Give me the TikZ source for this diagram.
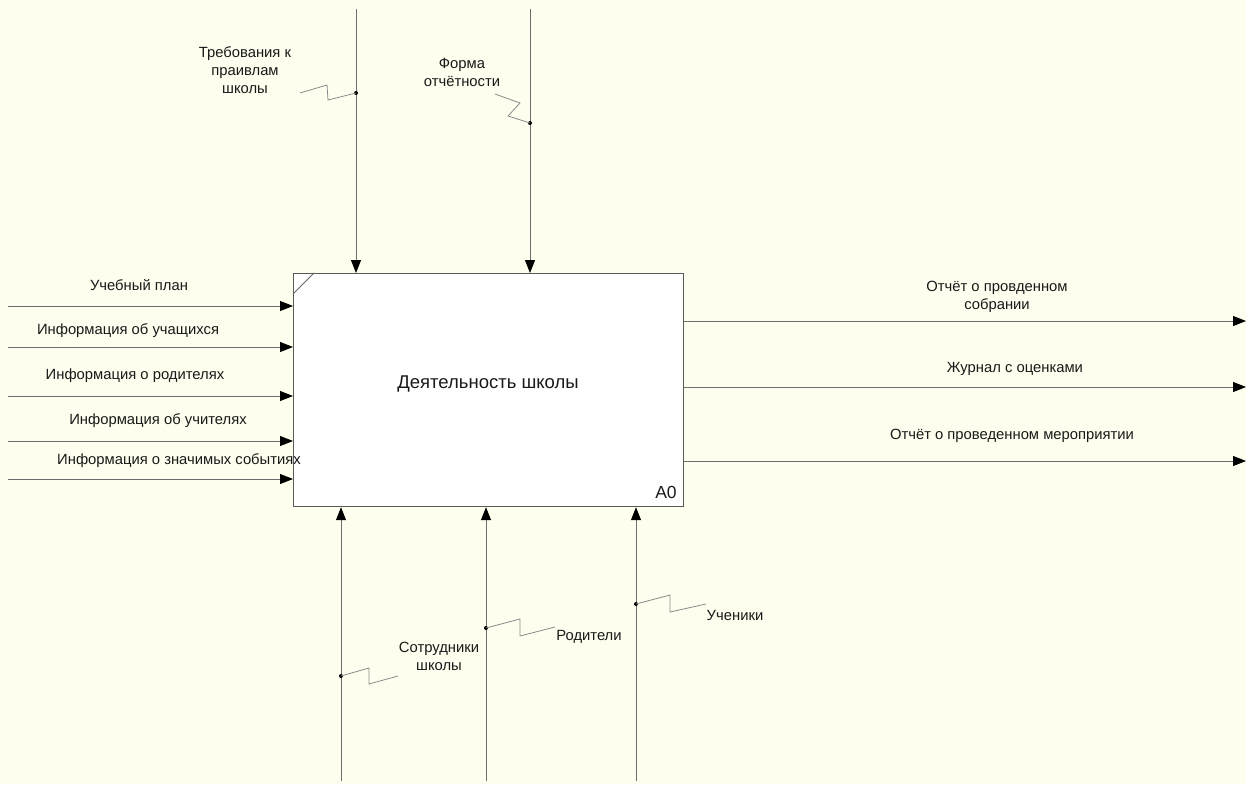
\documentclass[tikz,border=0pt]{standalone}
\usepackage{fontspec}
\setmainfont{Liberation Sans}
\usetikzlibrary{arrows.meta}
\definecolor{bgc}{HTML}{FEFEEE}
\definecolor{linec}{HTML}{6E6E6E}
\definecolor{sqc}{HTML}{8A8A8A}
\tikzset{
  arr/.style={draw=linec, line width=0.9pt, -{Triangle[length=13pt,width=10pt,black]}},
  sq/.style={draw=sqc, line width=0.8pt},
  lbl/.style={inner sep=0pt, font=\fontsize{14.8}{18}\selectfont, align=center, text=black!90},
  dot/.style={circle, fill=black, inner sep=0pt, minimum size=4pt}
}
\begin{document}
\begin{tikzpicture}[x=1pt,y=-1pt]
\fill[bgc] (0,0) rectangle (1246,784);
\useasboundingbox (0,0) rectangle (1246,784);
% main box
\node[draw=black!65, line width=1.2pt, fill=white, minimum width=390pt, minimum height=233pt, anchor=north west, inner sep=0pt] (box) at (293,273) {};
\draw[draw=black!60, line width=0.8pt] ([yshift=-21pt]box.north west) -- ([xshift=21pt]box.north west);
\node[lbl, font=\fontsize{18.5}{20}\selectfont] (title) at (488,384) {Деятельность школы};
\node[lbl, font=\fontsize{17.5}{19}\selectfont] (a0) at (666,492) {A0};
% inputs
\coordinate (i1) at (8,306);
\coordinate (i2) at (8,347);
\coordinate (i3) at (8,396);
\coordinate (i4) at (8,441);
\coordinate (i5) at (8,479);
\foreach \c in {i1,i2,i3,i4,i5} \draw[arr] (\c) -- (box.west |- \c);
\node[lbl] (l1) at (139,285) {Учебный план};
\node[lbl] (l2) at (128,331) {Информация об учащихся};
\node[lbl] (l3) at (135,376) {Информация о родителях};
\node[lbl] (l4) at (158,421) {Информация об учителях};
\node[lbl] (l5) at (179,461) {Информация о значимых событиях};
% outputs
\coordinate (o1) at (1246,321);
\coordinate (o2) at (1246,387);
\coordinate (o3) at (1246,461);
\foreach \c in {o1,o2,o3} \draw[arr] (box.east |- \c) -- (\c);
\node[lbl] (r1) at (997,297) {Отчёт о провденном\\собрании};
\node[lbl] (r2) at (1015,369) {Журнал с оценками};
\node[lbl] (r3) at (1012,436) {Отчёт о проведенном мероприятии};
% controls
\coordinate (c1) at (356,9);
\coordinate (c2) at (530,9);
\draw[arr] (c1) -- (box.north -| c1);
\draw[arr] (c2) -- (box.north -| c2);
\node[dot] (d1) at (356,93) {};
\node[dot] (d2) at (530,123) {};
\node[lbl] (t1) at (245,70) {Требования к\\праивлам\\школы};
\node[lbl] (t2) at (462,72) {Форма\\отчётности};
\draw[sq] (300,93) -- (327,85) -- (328,100) -- (d1.center);
\draw[sq] (495,94) -- (520,103) -- (508,116) -- (d2.center);
% mechanisms
\coordinate (m1) at (341,781);
\coordinate (m2) at (486,781);
\coordinate (m3) at (636,781);
\foreach \c in {m1,m2,m3} \draw[arr] (\c) -- (box.south -| \c);
\node[dot] (e1) at (341,676) {};
\node[dot] (e2) at (486,628) {};
\node[dot] (e3) at (636,604) {};
\draw[sq] (e1.center) -- (369,668) -- (369,684) -- (398,676);
\draw[sq] (e2.center) -- (520,619) -- (520,636) -- (555,627);
\draw[sq] (e3.center) -- (670,595) -- (670,612) -- (706,604);
\node[lbl] (b1) at (439,656) {Сотрудники\\школы};
\node[lbl] (b2) at (589,637) {Родители};
\node[lbl] (b3) at (735,615) {Ученики};
\end{tikzpicture}
\end{document}
